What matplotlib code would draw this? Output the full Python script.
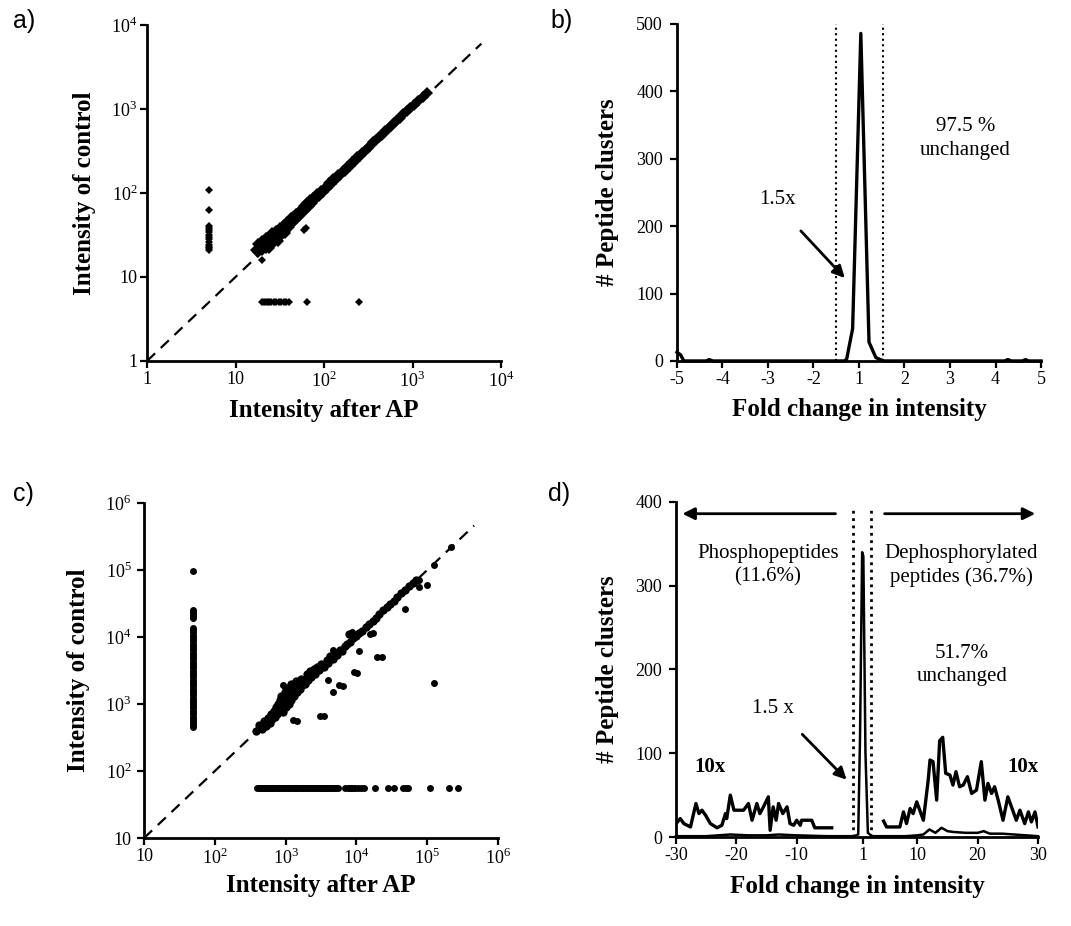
import matplotlib
matplotlib.use('Agg')
import matplotlib.pyplot as plt
from matplotlib.ticker import NullLocator

plt.rcParams['font.family'] = ['Liberation Serif', 'DejaVu Serif']
plt.rcParams['mathtext.fontset'] = 'custom'
plt.rcParams['mathtext.rm'] = 'Liberation Serif'
plt.rcParams['mathtext.bf'] = 'Liberation Serif:bold'
plt.rcParams['axes.unicode_minus'] = False

# ---- panel a: control vs after AP (log-log) ----
a_band_x = [17, 18, 18, 19, 20, 20, 21, 22, 22, 23, 24, 24, 25, 25, 26, 27, 28, 29, 30, 30, 31, 32,
            33, 34, 35, 36, 36, 37, 38, 40, 41, 42, 44, 45, 47, 48, 50, 52, 54, 56, 58, 60, 62, 65,
            68, 70, 73, 76, 80, 84, 88, 92, 97, 102, 108, 114, 120, 127, 135, 143, 152, 162, 172,
            183, 195, 208, 222, 237, 253, 270, 290, 310, 335, 360, 390, 420, 455, 490, 530, 575,
            620, 670, 730, 790, 860, 940, 1030, 1150, 1300, 1450]
a_band_y = [21, 25, 20, 23, 27, 21, 24, 29, 22, 26, 30, 22, 24, 28, 33, 27, 31, 35, 29, 27, 34, 38,
            32, 37, 42, 35, 33, 40, 45, 39, 46, 50, 44, 52, 48, 56, 51, 60, 55, 65, 60, 70, 64, 76,
            70, 82, 77, 88, 84, 97, 93, 106, 102, 116, 114, 130, 128, 146, 145, 162, 165, 182, 185,
            206, 212, 235, 240, 265, 275, 300, 318, 345, 365, 400, 425, 465, 495, 540, 575, 630,
            675, 735, 790, 865, 935, 1020, 1120, 1230, 1400, 1550]
a_out_x = [20, 59, 62]
a_out_y = [16, 36, 38]
a_col_x = [5] * 14
a_col_y = [21, 22, 23, 24, 26, 28, 30, 32, 34, 36, 38, 40, 63, 110]
a_row_x = [20, 21, 22, 23, 24, 25, 27, 29, 31, 33, 35, 37, 40, 64, 250]
a_row_y = [5] * 15
a_ticks = [1, 10, 100, 1000, 10000]
a_ticklabels = ['1', '10', '$10^{2}$', '$10^{3}$', '$10^{4}$']

# ---- panel b: fold change histogram (compressed axis, 0 = fold 1) ----
b_x = [-4.0, -3.92, -3.85, -3.36, -3.29, -3.21, -0.32, -0.27, -0.14, 0.04, 0.22, 0.37, 0.54,
       3.2, 3.27, 3.35, 3.59, 3.66, 3.73, 4.0]
b_y = [13, 9, 0, 0, 2, 0, 0, 3, 48, 486, 28, 5, 0, 0, 2, 0, 0, 2, 0, 0]
b_tickpos = [-4, -3, -2, -1, 0, 1, 2, 3, 4]
b_ticklabels = ['-5', '-4', '-3', '-2', '1', '2', '3', '4', '5']
b_cut = [-0.5, 0.53]

# ---- panel c: control vs after AP (log-log) ----
c_band_x = [380, 420, 460, 500, 520, 560, 600, 620, 650, 680, 700, 720, 750, 780, 800, 820, 850,
            870, 900, 920, 950, 980, 1000, 1050, 1080, 1100, 1150, 1180, 1200, 1250, 1300, 1350,
            1400, 1450, 1500, 1600, 1650, 1700, 1800, 1900, 2000, 2100, 2200, 2300, 2500, 2600,
            2800, 3000, 3200, 3500, 3800, 4000, 4300, 4600, 5000, 5400, 5800, 6200, 6800, 7300,
            7800, 8200, 9000, 10000, 11000, 12000, 13500, 15000, 17000, 19000, 21000, 24000,
            27000, 30000, 34000, 38000, 43000, 48000, 55000, 62000, 70000]
c_band_y = [390, 480, 420, 560, 470, 620, 520, 700, 600, 780, 640, 900, 700, 1000, 760, 1150, 850,
            1300, 950, 750, 1100, 1500, 900, 1250, 1700, 1000, 1400, 2000, 1150, 1600, 1300, 1800,
            2200, 1500, 2000, 1700, 2400, 1900, 2300, 2000, 2800, 2300, 3100, 2500, 3300, 2800,
            3600, 3200, 4000, 3600, 4500, 4100, 5200, 4700, 5800, 5400, 6500, 6200, 7400, 8000,
            11000, 8400, 9800, 10500, 11500, 12500, 14000, 15500, 17500, 19500, 22000, 25000,
            28000, 31000, 34000, 40000, 45000, 50000, 57000, 64000, 72000]
c_out_x = [100000, 49000, 19500, 123000, 9100, 4000, 5600, 3100, 1290, 15500, 214000, 123000,
           76000, 76000, 970, 4700, 8700, 10200, 23000, 3500, 1440, 6500, 4600, 17000, 11000, 910]
c_out_y = [59000, 26000, 5100, 2050, 3000, 2250, 1900, 660, 570, 11200, 220000, 118000,
           72000, 56000, 1790, 6500, 11700, 2900, 5000, 660, 560, 1860, 1500, 11500, 6100, 1900]
c_col_y = [450, 480, 520, 560, 600, 650, 700, 750, 800, 860, 930, 1000, 1080, 1160, 1250, 1350,
           1450, 1560, 1700, 1830, 2000, 2150, 2300, 2500, 2700, 2900, 3150, 3400, 3700, 4000,
           4300, 4650, 5000, 5400, 5850, 6300, 6800, 7400, 8000, 8600, 9300, 10000, 10800,
           11700, 12600, 13500, 19000, 20500, 22000, 23500, 25000, 96000]
c_col_x = [49] * len(c_col_y)
c_row_x = [400, 420, 440, 460, 480, 500, 530, 560, 590, 620, 650, 690, 730, 770, 810, 860, 910,
           960, 1010, 1070, 1130, 1200, 1270, 1340, 1420, 1500, 1590, 1680, 1780, 1880, 1990,
           2100, 2220, 2350, 2490, 2630, 2780, 2940, 3110, 3290, 3480, 3680, 3890, 4110, 4350,
           4600, 4860, 5140, 5440, 7000, 7500, 8000, 8500, 9000, 9500, 10500, 11500, 13000,
           18000, 28000, 34000, 46000, 50000, 53000, 110000, 200000, 270000]
c_row_y = [55] * len(c_row_x)
c_ticks = [10, 100, 1000, 10000, 100000, 1000000]
c_ticklabels = ['10', '$10^{2}$', '$10^{3}$', '$10^{4}$', '$10^{5}$', '$10^{6}$']

# ---- panel d: fold change histogram ----
d_x = [-30, -25, -21, -18, -15, -13, -10, -5, -0.5, 0.2, 0.5, 0.85, 1.05, 1.4, 1.8, 2.5,
       4.4, 8, 10, 11, 12, 13, 14, 15, 16, 18, 20, 21, 22, 24, 26, 28, 30]
d_y = [1, 1, 3, 2, 2, 3, 2, 1, 1, 3, 120, 340, 335, 100, 5, 1,
       1, 1, 2, 3, 9, 5, 11, 7, 6, 5, 5, 7, 4, 4, 3, 2, 1]
d_left10_x = [-30, -29.3, -28.7, -27.6, -26.7, -26.2, -25.7, -25.1, -24.3, -23.2, -22.4, -21.8,
              -21.6, -21.0, -20.4, -18.8, -18.0, -17.4, -16.6, -16.1, -15.5, -14.7, -14.4,
              -13.9, -13.4, -13.0, -12.3, -11.6, -11.1, -10.5, -10.0, -9.4, -9.2, -7.5, -7.0, -4.2]
d_left10_y = [16, 22, 16, 12, 40, 28, 32, 26, 16, 11, 14, 28, 22, 50, 32, 32, 40, 20, 40, 28,
              36, 48, 8, 36, 20, 40, 28, 36, 16, 14, 20, 14, 20, 20, 11, 11]
d_right10_x = [4.4, 4.9, 7.1, 7.7, 8.2, 8.8, 9.3, 9.9, 10.4, 11.0, 11.8, 12.1, 12.6, 13.2, 13.7,
               14.2, 14.7, 15.4, 15.9, 16.4, 17.0, 17.6, 18.3, 19.0, 19.8, 20.6, 21.2, 21.7,
               22.3, 22.8, 23.4, 24.2, 25.0, 25.6, 26.4, 27.0, 27.8, 28.4, 28.9, 29.5, 30.0]
d_right10_y = [19, 12, 12, 30, 16, 34, 28, 42, 32, 20, 68, 92, 90, 44, 115, 119, 76, 74, 62, 78,
               60, 62, 72, 52, 56, 90, 44, 64, 52, 60, 44, 20, 48, 36, 20, 32, 16, 30, 18, 30, 12]
d_ticks = [-30, -20, -10, 1, 10, 20, 30]
d_cut = [-0.7, 2.3]

LABEL_FS = 18
NOTE_FS = 15


def style(ax, pad_y):
    for s in ['top', 'right']:
        ax.spines[s].set_visible(False)
    for s in ['left', 'bottom']:
        ax.spines[s].set_linewidth(2)
    ax.tick_params(direction='out', length=5, width=1.6, labelsize=13)
    ax.tick_params(axis='x', pad=2)
    ax.tick_params(axis='y', pad=pad_y)


def axis_labels(ax, xlab, ylab, xy, yx):
    ax.text(0.5, xy, xlab, transform=ax.transAxes, ha='center', va='center',
            fontsize=LABEL_FS, fontweight='bold')
    ax.text(yx, 0.5, ylab, transform=ax.transAxes, ha='center', va='center',
            rotation=90, fontsize=LABEL_FS, fontweight='bold')


fig = plt.figure(figsize=(10.71, 9.26), dpi=100)

# a)
ax = fig.add_axes([0.1373, 0.6102, 0.3305, 0.3628])
ax.set_xscale('log')
ax.set_yscale('log')
ax.plot([1, 6000], [1, 6000], color='k', lw=1.6, ls=(0, (5, 3.5)))
ax.plot(a_band_x, a_band_y, 'D', color='k', ms=6.5, mew=0)
ax.plot(a_out_x, a_out_y, 'D', color='k', ms=4.5, mew=0)
ax.plot(a_col_x, a_col_y, 'D', color='k', ms=4.5, mew=0)
ax.plot(a_row_x, a_row_y, 'D', color='k', ms=4.5, mew=0)
ax.set_xlim(1, 10000)
ax.set_ylim(1, 10000)
ax.set_xticks(a_ticks)
ax.set_xticklabels(a_ticklabels)
ax.set_yticks(a_ticks)
ax.set_yticklabels(a_ticklabels)
ax.xaxis.set_minor_locator(NullLocator())
ax.yaxis.set_minor_locator(NullLocator())
style(ax, 2)
axis_labels(ax, 'Intensity after AP', 'Intensity of control', -0.146, -0.178)

# b)
ax = fig.add_axes([0.6321, 0.6102, 0.3399, 0.3639])
ax.plot(b_x, b_y, color='k', lw=2.4, clip_on=False)
for xc in b_cut:
    ax.plot([xc, xc], [0, 500], color='k', lw=1.5, ls=':')
ax.set_xlim(-4, 4)
ax.set_ylim(0, 500)
ax.set_xticks(b_tickpos)
ax.set_xticklabels(b_ticklabels)
ax.set_yticks([0, 100, 200, 300, 400, 500])
style(ax, 5)
ax.annotate('', xy=(-0.27, 120), xytext=(-1.32, 196),
            arrowprops=dict(arrowstyle='-|>', lw=2, color='k', mutation_scale=18))
ax.text(-1.8, 239, '1.5x', ha='center', va='center', fontsize=NOTE_FS)
ax.text(2.34, 330, '97.5 %\nunchanged', ha='center', va='center', fontsize=NOTE_FS,
        linespacing=1.3)
axis_labels(ax, 'Fold change in intensity', '# Peptide clusters', -0.145, -0.19)

# c)
ax = fig.add_axes([0.1345, 0.0950, 0.3305, 0.3618])
ax.set_xscale('log')
ax.set_yscale('log')
ax.plot([10, 460000], [10, 460000], color='k', lw=1.6, ls=(0, (5, 3.5)))
ax.plot(c_band_x, c_band_y, 'o', color='k', ms=6, mew=0)
ax.plot(c_out_x, c_out_y, 'o', color='k', ms=5, mew=0)
ax.plot(c_col_x, c_col_y, 'o', color='k', ms=5, mew=0)
ax.plot(c_row_x, c_row_y, 'o', color='k', ms=5, mew=0)
ax.set_xlim(10, 1000000)
ax.set_ylim(10, 1000000)
ax.set_xticks(c_ticks)
ax.set_xticklabels(c_ticklabels)
ax.set_yticks(c_ticks)
ax.set_yticklabels(c_ticklabels)
ax.xaxis.set_minor_locator(NullLocator())
ax.yaxis.set_minor_locator(NullLocator())
style(ax, 4)
axis_labels(ax, 'Intensity after AP', 'Intensity of control', -0.143, -0.186)

# d)
ax = fig.add_axes([0.6312, 0.0961, 0.3380, 0.3618])
ax.plot(d_x, d_y, color='k', lw=1.8, clip_on=False)
ax.plot(d_left10_x, d_left10_y, color='k', lw=2.4)
ax.plot(d_right10_x, d_right10_y, color='k', lw=2.4)
for xc in d_cut:
    ax.plot([xc, xc], [0, 394], color='k', lw=2, ls=':')
ax.annotate('', xy=(-29.4, 386), xytext=(-3.1, 386),
            arrowprops=dict(arrowstyle='-|>', lw=2, color='k', mutation_scale=18))
ax.annotate('', xy=(30, 386), xytext=(4.1, 386), annotation_clip=False,
            arrowprops=dict(arrowstyle='-|>', lw=2, color='k', mutation_scale=18))
ax.annotate('', xy=(-1.4, 66), xytext=(-9.4, 125),
            arrowprops=dict(arrowstyle='-|>', lw=2, color='k', mutation_scale=18))
ax.text(-14.8, 324, 'Phosphopeptides\n(11.6%)', ha='center', va='center', fontsize=NOTE_FS,
        linespacing=1.3)
ax.text(17.3, 324, 'Dephosphorylated\npeptides (36.7%)', ha='center', va='center',
        fontsize=NOTE_FS, linespacing=1.3)
ax.text(17.4, 205, '51.7%\nunchanged', ha='center', va='center', fontsize=NOTE_FS,
        linespacing=1.3)
ax.text(-14, 153, '1.5 x', ha='center', va='center', fontsize=NOTE_FS)
ax.text(-24.3, 84, '10x', ha='center', va='center', fontsize=NOTE_FS, fontweight='bold')
ax.text(27.5, 84, '10x', ha='center', va='center', fontsize=NOTE_FS, fontweight='bold')
ax.set_xlim(-30, 30)
ax.set_ylim(0, 400)
ax.set_xticks(d_ticks)
ax.set_yticks([0, 100, 200, 300, 400])
style(ax, 5)
axis_labels(ax, 'Fold change in intensity', '# Peptide clusters', -0.149, -0.188)

# panel letters
for lab, x, y in [('a)', 13, 21), ('b)', 550, 21), ('c)', 13, 494), ('d)', 548, 494)]:
    fig.text(x / 1071, 1 - y / 926, lab, fontsize=18, family='Liberation Sans', va='center')

plt.savefig('out.png', dpi=100)
